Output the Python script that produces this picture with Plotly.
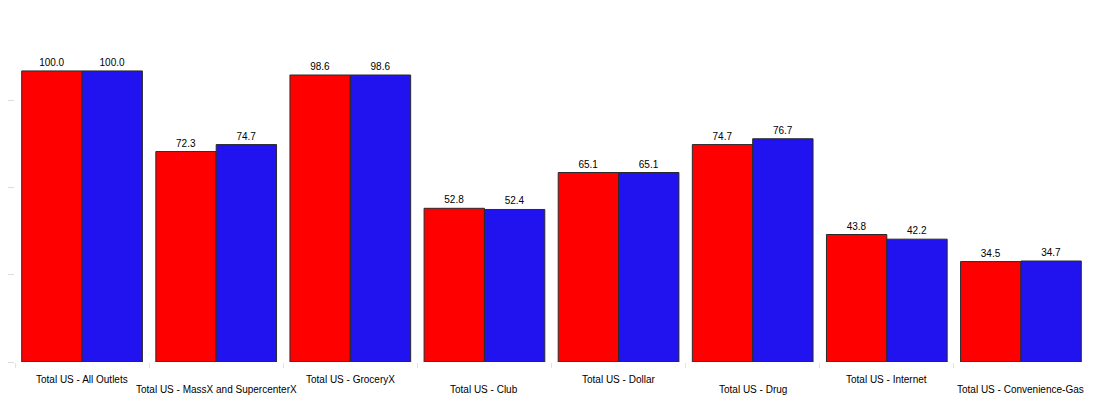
import plotly.graph_objects as go

categories = ["Total US - All Outlets", "Total US - MassX and SupercenterX", "Total US - GroceryX",
              "Total US - Club", "Total US - Dollar", "Total US - Drug", "Total US - Internet",
              "Total US - Convenience-Gas"]
series_a = [100.0, 72.3, 98.6, 52.8, 65.1, 74.7, 43.8, 34.5]
series_b = [100.0, 74.7, 98.6, 52.4, 65.1, 76.7, 42.2, 34.7]
y_ticks = [0, 30, 60, 90]

fig = go.Figure()
for vals, col in [(series_a, "#FF0000"), (series_b, "#2112F0")]:
    fig.add_trace(go.Bar(
        x=categories, y=vals,
        marker=dict(color=col, line=dict(color="#2a2a2a", width=1)),
        text=[f"{v:.1f}" for v in vals], textposition="outside",
        textfont=dict(family="Liberation Sans, Arial", size=10, color="black"),
        cliponaxis=False, showlegend=False,
    ))

for i, c in enumerate(categories):
    fig.add_annotation(x=c, y=0, xref="x", yref="y", text=c, showarrow=False,
                       yanchor="top", yshift=-10 if i % 2 == 0 else -20,
                       font=dict(family="Liberation Sans, Arial", size=10, color="black"))

fig.update_layout(
    barmode="group", bargap=0.1, bargroupgap=0,
    width=1087, height=391,
    margin=dict(l=7, r=7, t=28, b=37, autoexpand=False),
    plot_bgcolor="white", paper_bgcolor="white",
    uniformtext=dict(minsize=10, mode="show"),
)
fig.update_xaxes(showticklabels=False, ticks="outside", tickson="boundaries", automargin=False,
                 ticklen=5, tickcolor="#dde3ea", showline=False, showgrid=False)
fig.update_yaxes(range=[0, 112], tickvals=y_ticks, showticklabels=False, ticks="outside",
                 automargin=False,
                 ticklen=6, tickcolor="#dddddd", showgrid=False, zeroline=False, showline=False)

fig.write_html("out.html")
